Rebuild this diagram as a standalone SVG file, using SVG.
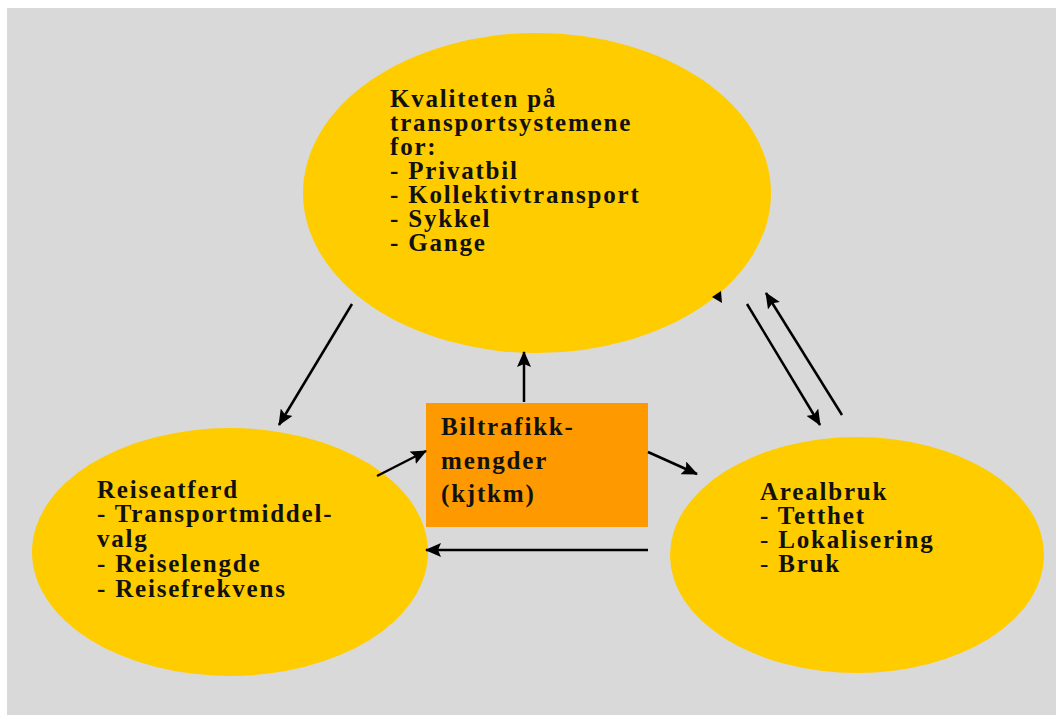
<svg xmlns="http://www.w3.org/2000/svg" width="1056" height="715" viewBox="0 0 1056 715">
<defs>
<style>
.ell{fill:#FFCC00;}
.box{fill:#FF9900;}
.t{font-family:"Liberation Serif","Times New Roman",serif;font-weight:bold;font-size:25px;fill:#111;letter-spacing:1.8px;}
.thin{font-weight:normal;}
.c{stroke:#000;stroke-width:2.5;fill:none;marker-end:url(#ah);}
</style>
<marker id="ah" markerUnits="userSpaceOnUse" markerWidth="16" markerHeight="14" refX="15" refY="7" orient="auto">
<path d="M0,0 L16,7 L0,14 L3,7 z" fill="#000"/>
</marker>
</defs>
<rect x="0" y="0" width="1056" height="715" fill="#fff"/>
<rect x="7" y="8" width="1049" height="707" fill="#D9D9D9"/>

<g id="kvalitet">
<ellipse class="ell" cx="537" cy="193" rx="234" ry="160"/>
<text class="t">
<tspan x="390" y="107">Kvaliteten på</tspan>
<tspan x="390" y="131">transportsystemene</tspan>
<tspan x="390" y="155">for:</tspan>
<tspan x="390" y="179">- Privatbil</tspan>
<tspan x="390" y="203">- Kollektivtransport</tspan>
<tspan x="390" y="227">- Sykkel</tspan>
<tspan x="390" y="251">- Gange</tspan>
</text>
</g>

<g id="reiseatferd">
<ellipse class="ell" cx="230" cy="552" rx="198" ry="124"/>
<text class="t">
<tspan x="97" y="498">Reiseatferd</tspan>
<tspan x="97" y="522">- Transportmiddel-</tspan>
<tspan x="97" y="547">valg</tspan>
<tspan x="97" y="572">- Reiselengde</tspan>
<tspan x="97" y="597">- Reisefrekvens</tspan>
</text>
</g>

<g id="arealbruk">
<ellipse class="ell" cx="857" cy="555" rx="187" ry="118"/>
<text class="t">
<tspan x="760" y="500">Arealbruk</tspan>
<tspan x="760" y="524">- Tetthet</tspan>
<tspan x="760" y="548"><tspan class="thin">-</tspan> Lokalisering</tspan>
<tspan x="760" y="572"><tspan class="thin">-</tspan> Bruk</tspan>
</text>
</g>

<g id="biltrafikk">
<rect class="box" x="426" y="403" width="222" height="124"/>
<text class="t">
<tspan x="441" y="435">Biltrafikk-</tspan>
<tspan x="441" y="469">mengder</tspan>
<tspan x="441" y="502">(kjtkm)</tspan>
</text>
</g>

<g id="connectors">
<line class="c" x1="352" y1="304" x2="279" y2="425"/>
<line class="c" x1="377" y1="476" x2="426" y2="451"/>
<line class="c" x1="524" y1="402" x2="524" y2="352"/>
<line class="c" x1="648" y1="452" x2="697" y2="474"/>
<line class="c" x1="648" y1="550" x2="426" y2="550"/>
<line class="c" x1="747" y1="304" x2="820" y2="425"/>
<line class="c" x1="842" y1="415" x2="766" y2="293"/>
<polygon points="712,297 721,291 722,303" fill="#000"/>
</g>
</svg>
